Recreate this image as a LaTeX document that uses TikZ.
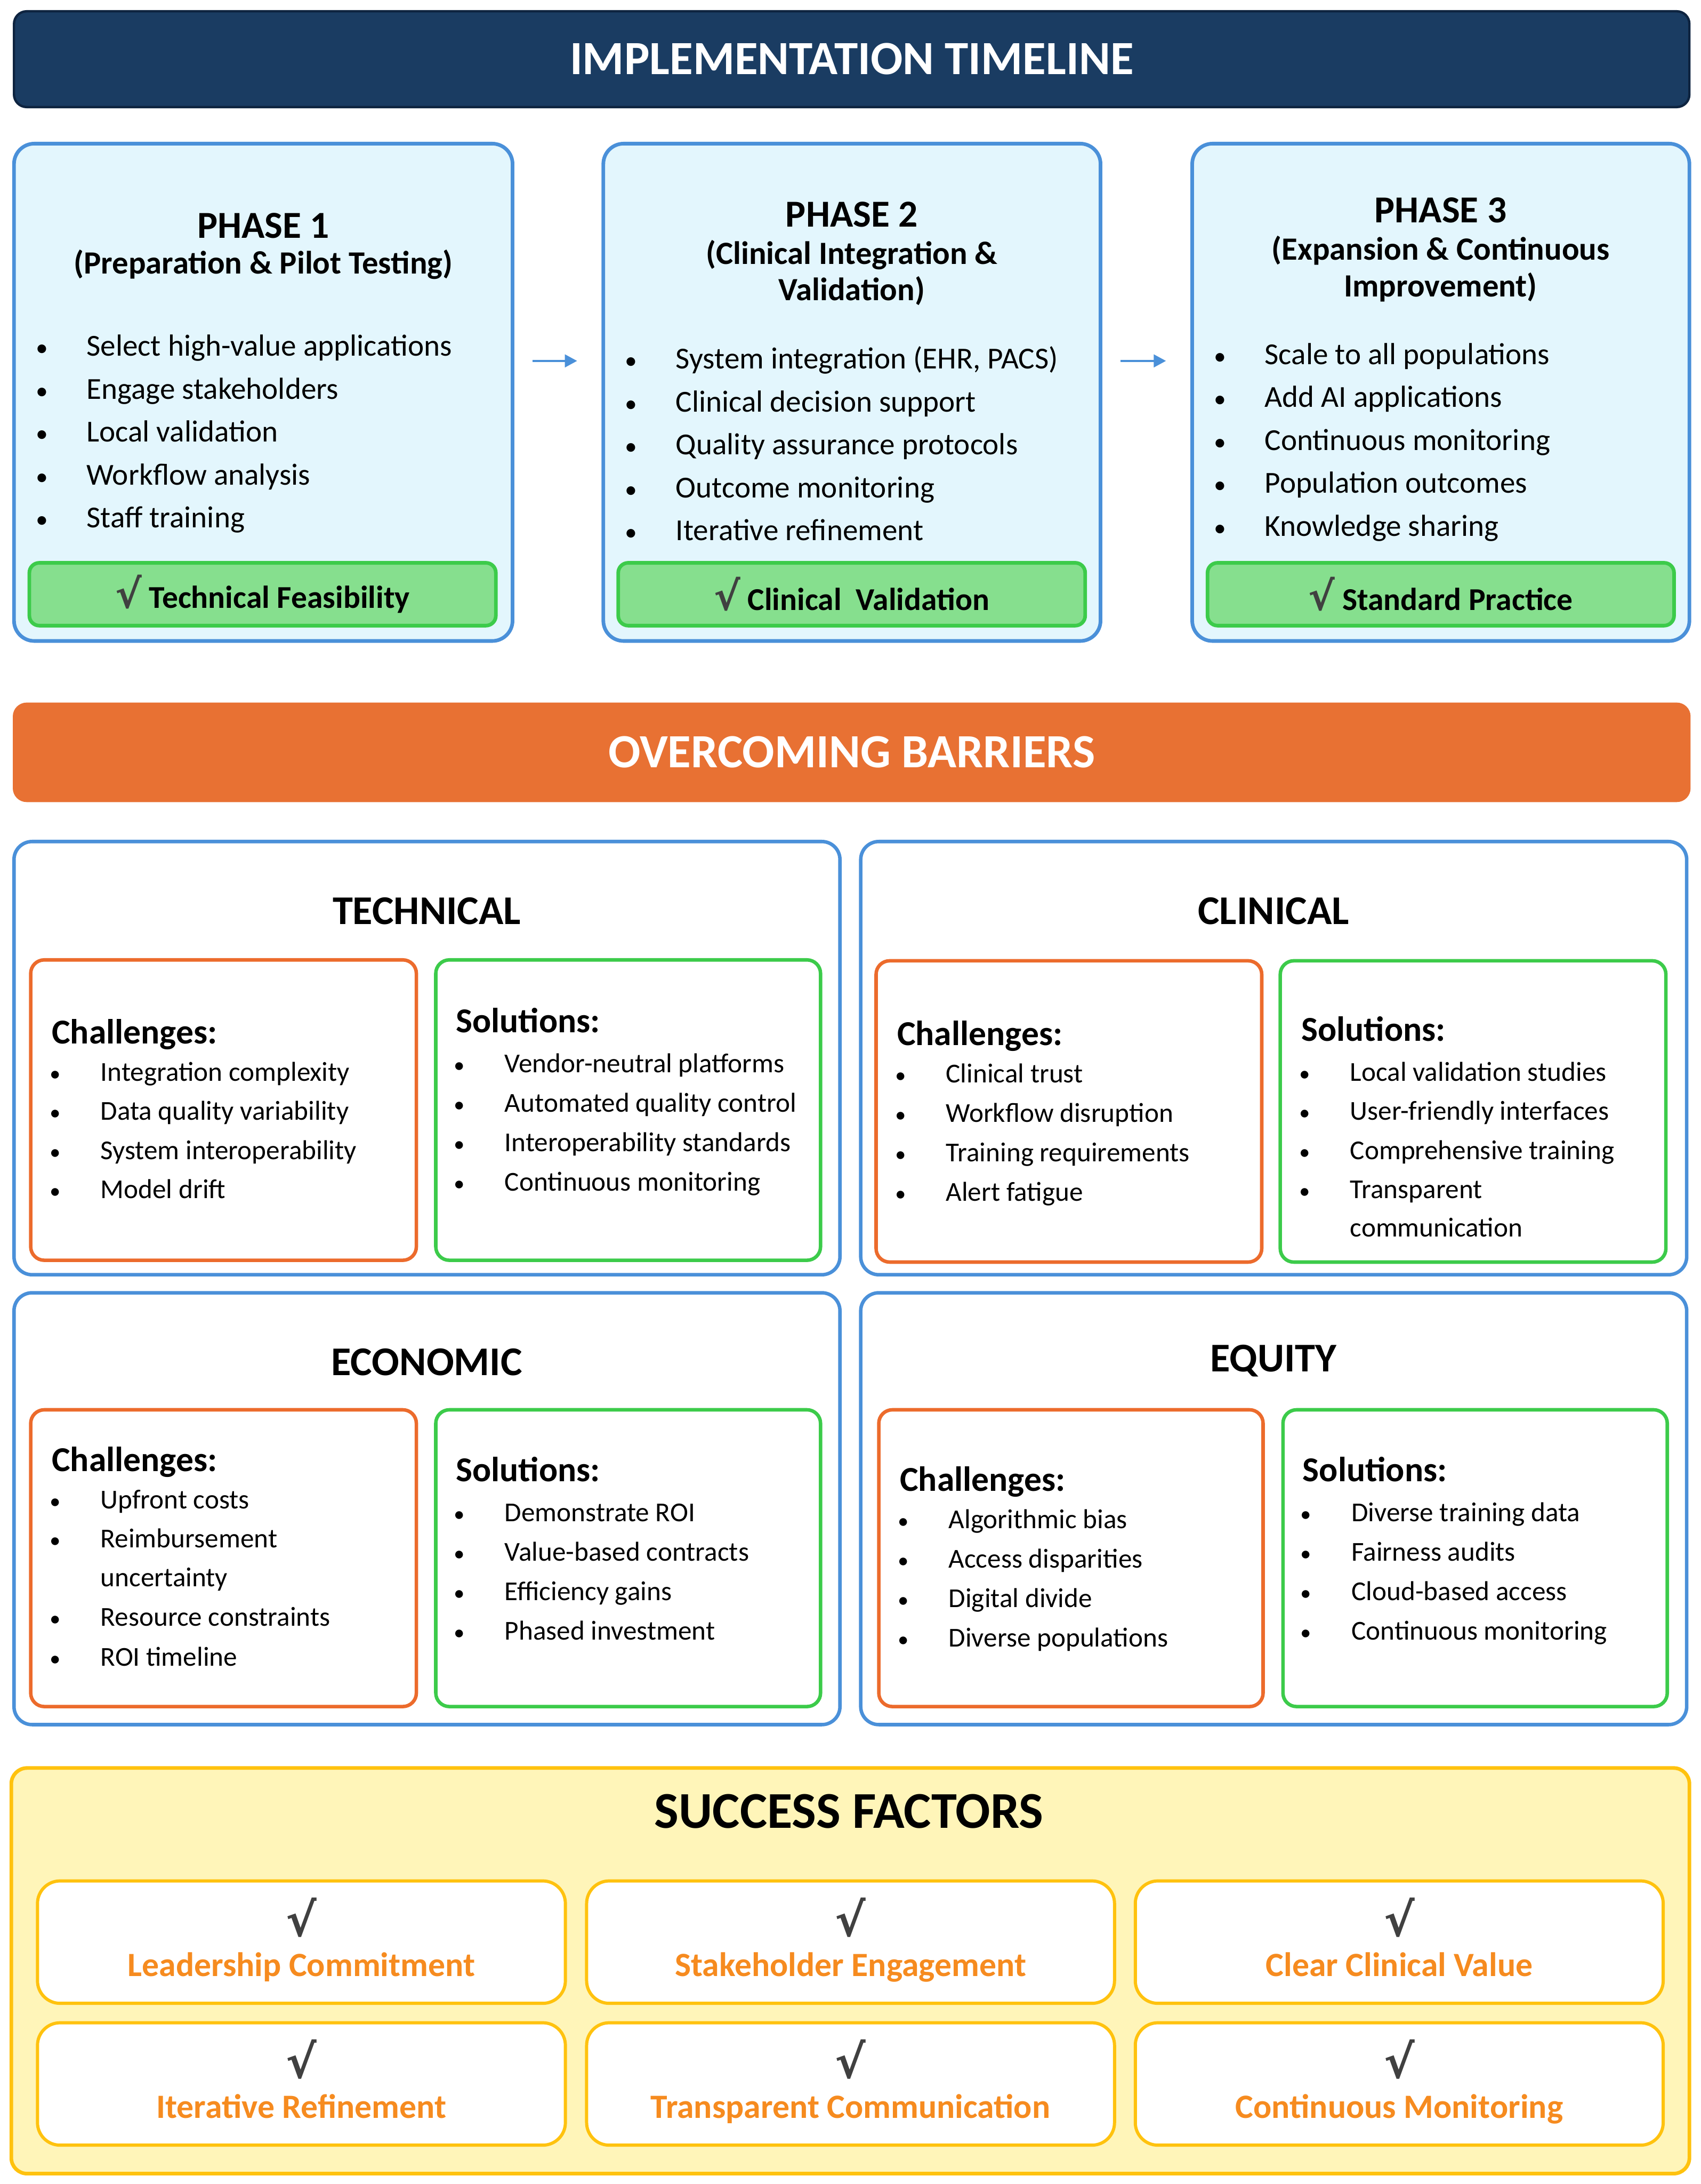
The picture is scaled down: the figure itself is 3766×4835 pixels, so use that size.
\documentclass[tikz,border=0pt]{standalone}
\usepackage{fontspec}
\usepackage{graphicx}
\setmainfont{Carlito}
\newfontfamily\symfont{DejaVu Sans}
\usetikzlibrary{positioning,fit,arrows.meta}

\definecolor{navy}{HTML}{1A3C62}
\definecolor{navyedge}{HTML}{0E2440}
\definecolor{phaseblue}{HTML}{4A90D9}
\definecolor{phasefill}{HTML}{E3F6FD}
\definecolor{okfill}{HTML}{86DF8E}
\definecolor{okedge}{HTML}{3CCB4A}
\definecolor{barorange}{HTML}{E87133}
\definecolor{challedge}{HTML}{EC6B2C}
\definecolor{goldedge}{HTML}{FFC20E}
\definecolor{goldfill}{HTML}{FFF5B9}
\definecolor{cardtext}{HTML}{F68B1F}
\definecolor{checkgray}{HTML}{404040}

% bullet hanging left of the item text
\newcommand\bl{\llap{\makebox[32pt][l]{\scalebox{0.8}{\textbullet}}}}
\newcommand\tick{{\symfont\bfseries\color{checkgray}√}}

\tikzset{
  banner/.style={rounded corners=0.28cm, inner sep=0pt, line width=1.5pt},
  bannertext/.style={inner sep=0pt, text=white, font=\bfseries\fontsize{30}{36}\selectfont},
  phasebox/.style={draw=phaseblue, fill=phasefill, line width=2.3pt, rounded corners=0.45cm, inner sep=0pt},
  okbar/.style={draw=okedge, fill=okfill, line width=2.3pt, rounded corners=0.22cm, inner sep=0pt},
  oktext/.style={inner sep=0pt, font=\bfseries\fontsize{20}{24}\selectfont},
  phasetitle/.style={inner sep=0pt, font=\bfseries\fontsize{24}{28}\selectfont},
  phasesub/.style={inner sep=0pt, align=center, font=\bfseries\fontsize{20.4}{23}\selectfont},
  pitem/.style={anchor=mid west, yshift=-0.15cm, inner sep=0pt, font=\fontsize{19.2}{23}\selectfont},
  flow/.style={-{Triangle[length=0.27cm,width=0.28cm]}, draw=phaseblue, line width=1.2pt,
    shorten <=0.4cm, shorten >=0.54cm},
  quad/.style={draw=phaseblue, fill=white, line width=2.2pt, rounded corners=0.4cm, inner sep=0pt},
  quadtitle/.style={inner sep=0pt, font=\bfseries\fontsize{25.7}{30}\selectfont},
  chbox/.style={draw=challedge, line width=2.2pt, rounded corners=0.3cm, inner sep=0pt},
  sobox/.style={draw=okedge, line width=2.2pt, rounded corners=0.3cm, inner sep=0pt},
  colhead/.style={anchor=mid west, yshift=-0.17cm, inner sep=0pt, font=\bfseries\fontsize{22}{26}\selectfont},
  bitem/.style={anchor=mid west, yshift=-0.13cm, inner sep=0pt, font=\fontsize{17.2}{21}\selectfont},
  goldbox/.style={draw=goldedge, fill=goldfill, line width=2.3pt, rounded corners=0.35cm, inner sep=0pt},
  card/.style={draw=goldedge, fill=white, line width=2pt, rounded corners=0.5cm, inner sep=0pt},
  cardcheck/.style={inner sep=0pt, font=\fontsize{29}{29}\selectfont},
  cardlabel/.style={inner sep=0pt, text height=0.72em, text depth=0.22em, text=cardtext,
    font=\bfseries\fontsize{21.4}{25}\selectfont},
}

\begin{document}
\begin{tikzpicture}[x=0.01cm, y=-0.01cm]
\useasboundingbox[fill=white] (0,0) rectangle (3766,4835);

% ---------------- Implementation timeline ----------------
\node[banner, fill=navy, draw=navyedge, fit={(31,25) (3741,237)}] (timeline) {};
\node[bannertext] (timelinet) at (timeline.center) {IMPLEMENTATION TIMELINE};

\node[phasebox, fit={(31,318) (1135,1419)}] (p1) {};
\node[phasebox, fit={(1336,318) (2437,1419)}] (p2) {};
\node[phasebox, fit={(2640,318) (3741,1419)}] (p3) {};

\node[phasetitle] (p1t) at (583,500) {PHASE 1};
\node[phasesub] (p1s) at (583,586) {(Preparation \& Pilot Testing)};
\node[phasetitle] (p2t) at (1886,475) {PHASE 2};
\node[phasesub] (p2s) at (1886,604) {(Clinical Integration \&\\Validation)};
\node[phasetitle] (p3t) at (3190,466) {PHASE 3};
\node[phasesub] (p3s) at (3190,595) {(Expansion \& Continuous\\Improvement)};

\foreach \txt [count=\i] in {Select high-value applications, Engage stakeholders,
    Local validation, Workflow analysis, Staff training}
  \node[pitem] (p1i\i) at (191,{765+95*(\i-1)}) {\bl\txt};
\foreach \txt [count=\i] in {{System integration (EHR, PACS)}, Clinical decision support,
    Quality assurance protocols, Outcome monitoring, Iterative refinement}
  \node[pitem] (p2i\i) at (1496,{793+95*(\i-1)}) {\bl\txt};
\foreach \txt [count=\i] in {Scale to all populations, Add AI applications,
    Continuous monitoring, Population outcomes, Knowledge sharing}
  \node[pitem] (p3i\i) at (2800,{783+95*(\i-1)}) {\bl\txt};

\node[okbar, fit={(65,1246) (1098,1385)}] (p1ok) {};
\node[okbar, fit={(1369,1246) (2403,1385)}] (p2ok) {};
\node[okbar, fit={(2674,1246) (3707,1385)}] (p3ok) {};
\node[oktext] (p1okt) at (p1ok.center) {{\fontsize{25}{25}\tick}\ Technical Feasibility};
\node[oktext] (p2okt) at (p2ok.center) {{\fontsize{25}{25}\tick}\ Clinical~ Validation};
\node[oktext] (p3okt) at (p3ok.center) {{\fontsize{25}{25}\tick}\ Standard Practice};

\draw[flow] ([yshift=0.695cm]p1.east) -- ([yshift=0.695cm]p2.west);
\draw[flow] ([yshift=0.695cm]p2.east) -- ([yshift=0.695cm]p3.west);

% ---------------- Overcoming barriers ----------------
\node[banner, fill=barorange, draw=barorange, fit={(31,1558) (3741,1773)}] (barriers) {};
\node[bannertext] (barrierst) at (barriers.center) {OVERCOMING BARRIERS};

\node[quad, fit={(31,1863) (1860,2822)}] (tech) {};
\node[quad, fit={(1906,1863) (3735,2822)}] (clin) {};
\node[quad, fit={(31,2862) (1860,3818)}] (econ) {};
\node[quad, fit={(1906,2862) (3735,3818)}] (equi) {};

\node[quadtitle] (techt) at (945,2017) {TECHNICAL};
\node[quadtitle] (clint) at (2820,2017) {CLINICAL};
\node[quadtitle] (econt) at (945,3016) {ECONOMIC};
\node[quadtitle] (equit) at (2820,3013) {EQUITY};

\node[chbox, fit={(68,2125) (922,2790)}] (techch) {};
\node[sobox, fit={(965,2125) (1817,2790)}] (techso) {};
\node[chbox, fit={(1940,2127) (2794,2794)}] (clinch) {};
\node[sobox, fit={(2835,2127) (3689,2794)}] (clinso) {};
\node[chbox, fit={(68,3121) (922,3778)}] (econch) {};
\node[sobox, fit={(965,3121) (1817,3778)}] (econso) {};
\node[chbox, fit={(1946,3121) (2797,3778)}] (equich) {};
\node[sobox, fit={(2841,3121) (3692,3778)}] (equiso) {};

% technical
\node[colhead] (techchh) at (114,2285) {Challenges:};
\foreach \txt [count=\i] in {Integration complexity, Data quality variability,
    System interoperability, Model drift}
  \node[bitem] (techc\i) at (222,{2372+86.5*(\i-1)}) {\bl\txt};
\node[colhead] (techsoh) at (1009,2261) {Solutions:};
\foreach \txt [count=\i] in {Vendor-neutral platforms, Automated quality control,
    Interoperability standards, Continuous monitoring}
  \node[bitem] (techs\i) at (1117,{2353+87.5*(\i-1)}) {\bl\txt};

% clinical
\node[colhead] (clinchh) at (1986,2289) {Challenges:};
\foreach \txt [count=\i] in {Clinical trust, Workflow disruption,
    Training requirements, Alert fatigue}
  \node[bitem] (clinc\i) at (2094,{2375+87.5*(\i-1)}) {\bl\txt};
\node[colhead] (clinsoh) at (2881,2279) {Solutions:};
\foreach \txt [count=\i] in {Local validation studies, User-friendly interfaces,
    Comprehensive training, Transparent}
  \node[bitem] (clins\i) at (2989,{2372+86.5*(\i-1)}) {\bl\txt};
\node[bitem] (clins5) at (2989,2717) {communication};

% economic
\node[colhead] (econchh) at (114,3232) {Challenges:};
\node[bitem] (econc1) at (222,3319) {\bl Upfront costs};
\node[bitem] (econc2) at (222,3405) {\bl Reimbursement};
\node[bitem] (econc2b) at (222,3491) {uncertainty};
\node[bitem] (econc3) at (222,3578) {\bl Resource constraints};
\node[bitem] (econc4) at (222,3667) {\bl ROI timeline};
\node[colhead] (econsoh) at (1009,3254) {Solutions:};
\foreach \txt [count=\i] in {Demonstrate ROI, Value-based contracts,
    Efficiency gains, Phased investment}
  \node[bitem] (econs\i) at (1117,{3347+87.3*(\i-1)}) {\bl\txt};

% equity
\node[colhead] (equichh) at (1992,3276) {Challenges:};
\foreach \txt [count=\i] in {Algorithmic bias, Access disparities,
    Digital divide, Diverse populations}
  \node[bitem] (equic\i) at (2100,{3362+87.3*(\i-1)}) {\bl\txt};
\node[colhead] (equisoh) at (2884,3254) {Solutions:};
\foreach \txt [count=\i] in {Diverse training data, Fairness audits,
    Cloud-based access, Continuous monitoring}
  \node[bitem] (equis\i) at (2992,{3347+87.3*(\i-1)}) {\bl\txt};

% ---------------- Success factors ----------------
\node[goldbox, fit={(25,3914) (3741,4812)}] (success) {};
\node[inner sep=0pt, font=\bfseries\fontsize{32.5}{36}\selectfont] (successt) at (1880,4010) {SUCCESS FACTORS};

\foreach \x/\y/\txt [count=\i] in {83/4164/Leadership Commitment, 1299/4164/Stakeholder Engagement,
    2514/4164/Clear Clinical Value, 83/4478/Iterative Refinement,
    1299/4478/Transparent Communication, 2514/4478/Continuous Monitoring} {
  \node[card, fit={(\x,\y) (\x+1169,\y+271)}] (sf\i) {};
  \node[cardcheck] (sf\i c) at ([yshift=0.55cm]sf\i.center) {\tick};
  \node[cardlabel] (sf\i l) at ([yshift=-0.67cm]sf\i.center) {\txt};
}

\end{tikzpicture}
\end{document}
